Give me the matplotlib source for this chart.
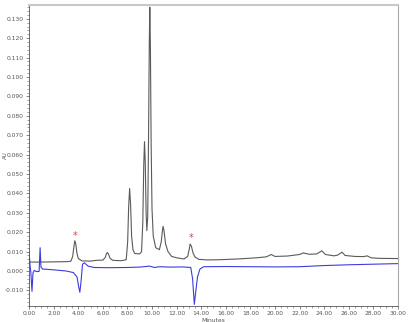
import matplotlib
matplotlib.use("Agg")
import matplotlib.pyplot as plt
from matplotlib.ticker import MultipleLocator, FormatStrFormatter

# black trace (sample)
t_black = [0.0, 1.0, 2.0, 3.0, 3.4, 3.55, 3.65, 3.72, 3.8, 3.9, 4.0, 4.3, 5.0, 5.5,
           6.0, 6.2, 6.3, 6.37, 6.45, 6.6, 6.8, 7.5, 7.9, 8.02, 8.1, 8.18, 8.26,
           8.34, 8.45, 8.6, 9.0, 9.15, 9.25, 9.33, 9.39, 9.45, 9.52, 9.58, 9.65,
           9.72, 9.78, 9.82, 9.87, 9.93, 10.0, 10.1, 10.3, 10.6, 10.75, 10.85, 10.9,
           10.97, 11.1, 11.3, 11.6, 12.0, 12.6, 12.9, 13.02, 13.1, 13.2, 13.35,
           13.5, 13.8, 14.5, 15.5, 17.0, 18.5, 19.3, 19.7, 20.0, 21.0, 22.0, 22.3,
           22.8, 23.4, 23.8, 24.1, 24.8, 25.1, 25.45, 25.7, 26.5, 27.2, 27.5, 27.8,
           28.5, 30.0]
y_black = [0.0046, 0.0046, 0.0047, 0.0048, 0.0050, 0.0075, 0.0125, 0.0156, 0.0140,
           0.0090, 0.0065, 0.0052, 0.0051, 0.0055, 0.0056, 0.0070, 0.0090, 0.0095,
           0.0088, 0.0065, 0.0055, 0.0053, 0.0058, 0.0150, 0.0330, 0.0425, 0.0340,
           0.0180, 0.0110, 0.0090, 0.0088, 0.0100, 0.0250, 0.0550, 0.0667, 0.0560,
           0.0300, 0.0208, 0.0280, 0.0700, 0.1180, 0.1360, 0.1150, 0.0650, 0.0320,
           0.0180, 0.0120, 0.0110, 0.0150, 0.0210, 0.0230, 0.0210, 0.0140, 0.0100,
           0.0075, 0.0068, 0.0062, 0.0075, 0.0110, 0.0139, 0.0128, 0.0090, 0.0072,
           0.0060, 0.0057, 0.0058, 0.0062, 0.0068, 0.0073, 0.0085, 0.0075, 0.0077,
           0.0085, 0.0093, 0.0086, 0.0088, 0.0104, 0.0085, 0.0078, 0.0082, 0.0097,
           0.0080, 0.0075, 0.0074, 0.0078, 0.0068, 0.0065, 0.0064]

# blue trace (blank)
t_blue = [0.0, 0.08, 0.15, 0.24, 0.32, 0.43, 0.6, 0.82, 0.9, 0.97, 1.1, 2.0, 3.0,
          3.6, 3.9, 4.02, 4.13, 4.22, 4.35, 4.5, 4.8, 5.3, 6.5, 8.0, 9.0, 9.8, 10.2,
          10.6, 11.5, 12.5, 13.15, 13.3, 13.44, 13.55, 13.7, 13.9, 14.2, 16.0, 18.0,
          20.0, 22.0, 24.0, 26.0, 28.0, 30.0]
y_blue = [0.0100, 0.0030, -0.0010, -0.0105, -0.0010, 0.0003, -0.0003, -0.0002,
          0.0120, 0.0020, 0.0010, 0.0006, 0.0000, -0.0008, -0.0030, -0.0075,
          -0.0110, -0.0060, 0.0035, 0.0042, 0.0025, 0.0018, 0.0017, 0.0018, 0.0020,
          0.0025, 0.0018, 0.0022, 0.0020, 0.0021, 0.0018, -0.0040, -0.0172, -0.0110,
          -0.0030, 0.0010, 0.0022, 0.0023, 0.0022, 0.0021, 0.0022, 0.0028, 0.0032,
          0.0035, 0.0038]

# red asterisks marking peaks
star_t = [3.75, 13.15]
star_y = [0.0180, 0.0168]

fig = plt.figure(figsize=(4.09, 3.22), dpi=100)
ax = fig.add_axes([0.071, 0.05, 0.902, 0.935])

ax.plot(t_black, y_black, color="#5a5a5a", lw=0.8)
ax.plot(t_blue, y_blue, color="#3c3ce0", lw=0.8)
for t, y in zip(star_t, star_y):
    ax.text(t, y, "*", color="#e04040", fontsize=7, ha="center", va="center")

ax.set_xlim(0, 30)
ax.set_ylim(-0.018, 0.1372)
ax.xaxis.set_major_locator(MultipleLocator(2))
ax.xaxis.set_minor_locator(MultipleLocator(0.5))
ax.yaxis.set_major_locator(MultipleLocator(0.01))
ax.yaxis.set_minor_locator(MultipleLocator(0.002))
ax.xaxis.set_major_formatter(FormatStrFormatter("%.2f"))
ax.yaxis.set_major_formatter(FormatStrFormatter("%.3f"))
ax.tick_params(labelsize=4.3, labelcolor="#555555", color="#555555",
               length=2.5, width=0.5, pad=1.5)
ax.tick_params(which="minor", length=1.5, width=0.4, color="#555555")

for s in ["left", "bottom"]:
    ax.spines[s].set_color("#555555")
    ax.spines[s].set_linewidth(0.6)
ax.spines["top"].set_color("#c8c8c8")
ax.spines["top"].set_linewidth(1.5)
ax.spines["right"].set_color("#aaaaaa")
ax.spines["right"].set_linewidth(0.8)

ax.set_xlabel("Minutes", fontsize=4.3, color="#555555", labelpad=1)
ax.set_ylabel("AU", fontsize=4, color="#555555")
ax.yaxis.set_label_coords(-0.058, 0.5)

fig.savefig("out.png", dpi=100)
